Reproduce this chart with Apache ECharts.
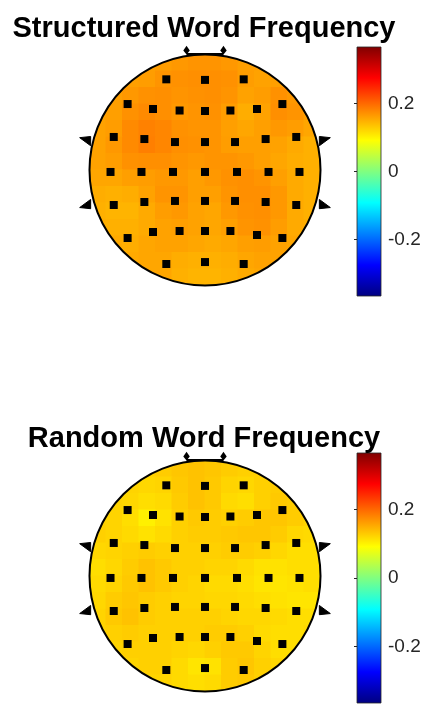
<!DOCTYPE html>
<html><head><meta charset="utf-8">
<script src="https://cdn.jsdelivr.net/npm/echarts@6/dist/echarts.min.js"></script>
<style>html,body{margin:0;padding:0;background:#fff}#chart{width:438px;height:705px}</style>
</head><body><div id="chart"></div>
<script>
// ---------------- data ----------------
const titles = ['Structured Word Frequency', 'Random Word Frequency'];
const colorMin = -0.365, colorMax = 0.365;
const colorbarTicks = [-0.2, 0, 0.2];

// electrode positions (head units, radius 1)
const electrodeX = [
  -0.335, 0, 0.335,
  -0.67, -0.45, -0.22, 0, 0.22, 0.45, 0.67,
  -0.79, -0.525, -0.26, 0, 0.26, 0.525, 0.79,
  -0.818, -0.55, -0.277, 0, 0.277, 0.55, 0.818,
  -0.79, -0.525, -0.26, 0, 0.26, 0.525, 0.79,
  -0.67, -0.45, -0.22, 0, 0.22, 0.45, 0.67,
  -0.335, 0, 0.335
];
const electrodeY = [
  0.785, 0.78, 0.785,
  0.571, 0.528, 0.515, 0.511, 0.515, 0.528, 0.571,
  0.286, 0.268, 0.242, 0.242, 0.242, 0.268, 0.286,
  -0.017, -0.017, -0.017, -0.017, -0.017, -0.017, -0.017,
  -0.303, -0.277, -0.268, -0.268, -0.268, -0.277, -0.303,
  -0.589, -0.537, -0.528, -0.528, -0.528, -0.563, -0.589,
  -0.814, -0.797, -0.814
];

// scalp map values, 14 x 14 cells over the head (rows top -> bottom)
const structuredGrid = [
  [0.160,0.160,0.160,0.160,0.162,0.165,0.168,0.168,0.165,0.160,0.160,0.160,0.160,0.160],
  [0.160,0.160,0.160,0.162,0.168,0.170,0.172,0.172,0.170,0.162,0.158,0.160,0.160,0.160],
  [0.160,0.160,0.165,0.170,0.172,0.168,0.170,0.172,0.168,0.158,0.162,0.170,0.165,0.160],
  [0.158,0.160,0.170,0.175,0.172,0.165,0.168,0.170,0.162,0.150,0.158,0.172,0.168,0.160],
  [0.158,0.162,0.175,0.182,0.178,0.170,0.168,0.168,0.160,0.155,0.160,0.165,0.162,0.155],
  [0.158,0.165,0.175,0.183,0.178,0.172,0.170,0.168,0.162,0.160,0.160,0.158,0.152,0.148],
  [0.158,0.162,0.170,0.172,0.172,0.168,0.165,0.168,0.168,0.165,0.160,0.155,0.150,0.148],
  [0.155,0.155,0.160,0.162,0.165,0.165,0.160,0.165,0.170,0.172,0.168,0.160,0.152,0.148],
  [0.150,0.148,0.150,0.158,0.168,0.168,0.160,0.160,0.168,0.172,0.172,0.165,0.152,0.148],
  [0.148,0.145,0.145,0.152,0.162,0.165,0.158,0.155,0.165,0.170,0.172,0.165,0.152,0.148],
  [0.150,0.148,0.148,0.152,0.158,0.160,0.158,0.155,0.160,0.168,0.170,0.162,0.152,0.150],
  [0.152,0.152,0.150,0.155,0.158,0.158,0.155,0.152,0.155,0.160,0.162,0.158,0.155,0.155],
  [0.155,0.155,0.152,0.155,0.155,0.150,0.148,0.148,0.150,0.155,0.158,0.158,0.155,0.155],
  [0.155,0.155,0.155,0.155,0.155,0.148,0.145,0.145,0.148,0.152,0.155,0.155,0.155,0.155]
];
const randomGrid = [
  [0.125,0.125,0.125,0.125,0.128,0.132,0.135,0.132,0.128,0.125,0.125,0.125,0.125,0.125],
  [0.125,0.125,0.122,0.120,0.122,0.130,0.135,0.130,0.122,0.120,0.125,0.128,0.125,0.125],
  [0.125,0.122,0.120,0.115,0.118,0.128,0.135,0.130,0.118,0.115,0.125,0.130,0.128,0.125],
  [0.125,0.122,0.115,0.102,0.112,0.125,0.130,0.128,0.125,0.128,0.132,0.132,0.128,0.122],
  [0.125,0.122,0.118,0.112,0.118,0.125,0.128,0.128,0.130,0.132,0.132,0.128,0.120,0.118],
  [0.120,0.122,0.125,0.128,0.125,0.125,0.125,0.125,0.128,0.128,0.125,0.120,0.115,0.115],
  [0.115,0.120,0.128,0.135,0.130,0.125,0.125,0.122,0.122,0.118,0.112,0.112,0.115,0.115],
  [0.118,0.122,0.130,0.135,0.130,0.125,0.122,0.118,0.118,0.115,0.110,0.110,0.112,0.115],
  [0.120,0.128,0.132,0.128,0.125,0.122,0.122,0.120,0.120,0.118,0.115,0.112,0.110,0.110],
  [0.122,0.130,0.135,0.128,0.125,0.125,0.125,0.125,0.122,0.120,0.120,0.118,0.115,0.115],
  [0.122,0.125,0.128,0.125,0.125,0.125,0.125,0.128,0.128,0.125,0.118,0.115,0.115,0.118],
  [0.122,0.122,0.125,0.125,0.125,0.122,0.120,0.125,0.130,0.130,0.122,0.115,0.115,0.120],
  [0.122,0.122,0.122,0.125,0.125,0.118,0.110,0.112,0.128,0.132,0.125,0.120,0.122,0.122],
  [0.122,0.122,0.122,0.122,0.122,0.118,0.115,0.118,0.128,0.130,0.125,0.122,0.122,0.122]
];

// ---------------- layout / style ----------------
const jetColors = ['#000080','#0000ff','#0080ff','#00ffff','#80ff80','#ffff00','#ff8000','#ff0000','#800000'];
const headCX = 205, headCY = [170, 576], headR = 115.5, spanX = 1.25, spanY = 1.1;
const cbLeft = 357, cbWidth = 24, cbTop = [47, 453], cbHeight = [249, 250];
const nCells = structuredGrid.length, step = 2 / nCells, half = step / 2;
const FONT = "'Liberation Sans', Arial, Helvetica, sans-serif";

function gridToData(g) {
  const out = [];
  g.forEach((row, r) => row.forEach((v, c) => {
    out.push([-1 + (c + 0.5) * step, 1 - (r + 0.5) * step, v]);
  }));
  return out;
}
const electrodes = electrodeX.map((x, i) => [x, electrodeY[i]]);

function renderCell(params, api) {
  const x = api.value(0), y = api.value(1);
  const p0 = api.coord([x - half, y + half]);
  const p1 = api.coord([x + half, y - half]);
  return { type: 'rect',
    shape: { x: p0[0] - 0.5, y: p0[1] - 0.5, width: p1[0] - p0[0] + 1, height: p1[1] - p0[1] + 1 },
    style: { fill: api.visual('color') } };
}
function renderMask(params, api) {
  const c = api.coord([0, 0]); const s = api.size([1, 1]);
  return { type: 'ring', shape: { cx: c[0], cy: c[1], r0: s[0], r: s[0] + 62 }, style: { fill: '#fff' } };
}
function renderHead(params, api) {
  const c = api.coord([0, 0]); const s = api.size([1, 1]);
  const P = (x, y) => api.coord([x, y]);
  const kids = [
    { type: 'circle', shape: { cx: c[0], cy: c[1], r: s[0] }, style: { fill: null, stroke: '#000', lineWidth: 2 } },
    { type: 'line', shape: { x1: P(-0.16, 1.005)[0], y1: P(-0.16, 1.005)[1], x2: P(0.16, 1.005)[0], y2: P(0.16, 1.005)[1] }, style: { stroke: '#000', lineWidth: 2 } }
  ];
  [-0.16, 0.16].forEach(nx => {
    kids.push({ type: 'polygon', shape: { points: [P(nx, 1.075), P(nx + 0.028, 1.035), P(nx, 1.0), P(nx - 0.028, 1.035)] }, style: { fill: '#000' } });
  });
  [[-1, 0.245], [-1, -0.29], [1, 0.245], [1, -0.29]].forEach(([sd, ey]) => {
    const up = ey > 0 ? 1 : -1;
    kids.push({ type: 'polygon', shape: { points: [P(sd * 0.99, ey + up * 0.045), P(sd * 0.99, ey - up * 0.035), P(sd * 1.085, ey + up * 0.035)] }, style: { fill: '#000', stroke: '#000', lineWidth: 1 } });
  });
  return { type: 'group', children: kids };
}
function renderColorbar(params, api) {
  const p0 = api.coord([0, colorMax]); const p1 = api.coord([1, colorMin]);
  const stops = jetColors.slice().reverse().map((col, i) => ({ offset: i / (jetColors.length - 1), color: col }));
  return { type: 'rect', shape: { x: p0[0], y: p0[1], width: p1[0] - p0[0], height: p1[1] - p0[1] },
    style: { fill: { type: 'linear', x: 0, y: 0, x2: 0, y2: 1, colorStops: stops }, stroke: '#262626', lineWidth: 0.8 } };
}

const headXAxis = i => ({ gridIndex: i, type: 'value', min: -spanX, max: spanX, show: false });
const headYAxis = i => ({ gridIndex: i, type: 'value', min: -spanY, max: spanY, show: false });
const cbXAxis = i => ({ gridIndex: i, type: 'value', min: 0, max: 1, show: false });
const cbYAxis = i => ({ gridIndex: i, type: 'value', min: colorMin, max: colorMax, position: 'right', z: 10,
  axisLine: { show: false }, splitLine: { show: false },
  axisTick: { show: true, inside: true, length: 3, customValues: colorbarTicks, lineStyle: { color: '#262626' } },
  axisLabel: { customValues: colorbarTicks, margin: 7, color: '#262626', fontSize: 19, fontFamily: FONT, formatter: v => String(v) } });

const series = [];
[structuredGrid, randomGrid].forEach((g, i) => {
  series.push({ type: 'custom', name: titles[i], xAxisIndex: i, yAxisIndex: i, z: 1, renderItem: renderCell,
    dimensions: ['x', 'y', 'value'], encode: { x: 0, y: 1 }, data: gridToData(g), silent: true });
});
[0, 1].forEach(i => {
  series.push({ type: 'custom', xAxisIndex: i, yAxisIndex: i, z: 2, renderItem: renderMask, data: [[0, 0]], silent: true });
  series.push({ type: 'custom', xAxisIndex: i, yAxisIndex: i, z: 3, renderItem: renderHead, data: [[0, 0]], silent: true });
  series.push({ type: 'scatter', xAxisIndex: i, yAxisIndex: i, z: 4, symbol: 'rect', symbolSize: 8,
    itemStyle: { color: '#000', opacity: 1 }, data: electrodes, silent: true });
  series.push({ type: 'custom', xAxisIndex: 2 + i, yAxisIndex: 2 + i, z: 5, renderItem: renderColorbar, data: [[0, 0]], silent: true });
});

const option = {
  animation: false,
  backgroundColor: '#fff',
  title: [0, 1].map(i => ({ text: titles[i], left: 204, top: i === 0 ? 14 : 424, textAlign: 'center', textVerticalAlign: 'top', padding: 0,
    textStyle: { fontSize: 29, fontWeight: 'bold', color: '#000', fontFamily: FONT } })),
  grid: [
    { left: headCX - headR * spanX, top: headCY[0] - headR * spanY, width: 2 * headR * spanX, height: 2 * headR * spanY },
    { left: headCX - headR * spanX, top: headCY[1] - headR * spanY, width: 2 * headR * spanX, height: 2 * headR * spanY },
    { left: cbLeft, top: cbTop[0], width: cbWidth, height: cbHeight[0] },
    { left: cbLeft, top: cbTop[1], width: cbWidth, height: cbHeight[1] }
  ],
  xAxis: [headXAxis(0), headXAxis(1), cbXAxis(2), cbXAxis(3)],
  yAxis: [headYAxis(0), headYAxis(1), cbYAxis(2), cbYAxis(3)],
  visualMap: { type: 'continuous', show: false, min: colorMin, max: colorMax, dimension: 2, seriesIndex: [0, 1], inRange: { color: jetColors } },
  series: series
};
const chart = echarts.init(document.getElementById('chart'), null, { renderer: 'canvas' });
chart.setOption(option);
</script></body></html>
